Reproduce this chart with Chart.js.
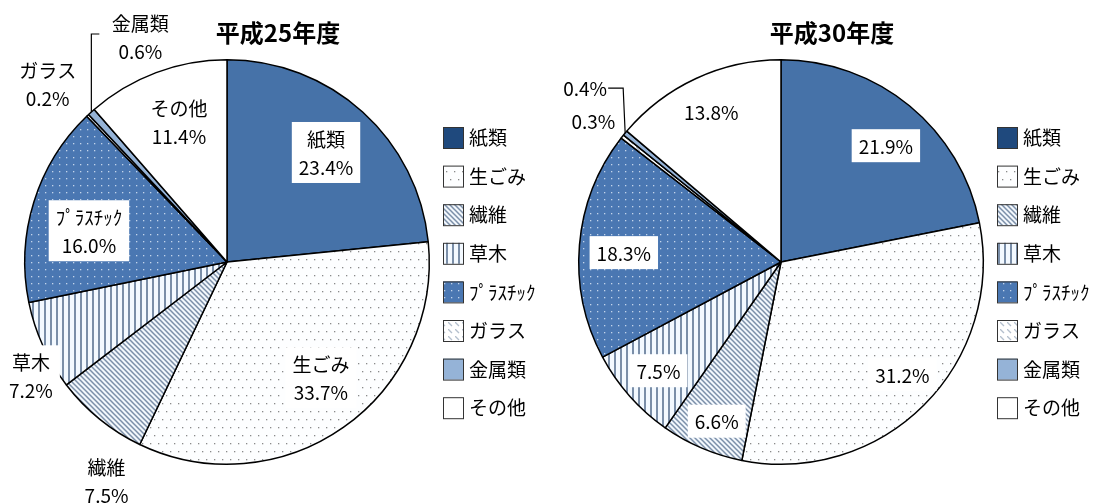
<!DOCTYPE html>
<html lang="ja">
<head>
<meta charset="utf-8">
<script src="https://cdn.jsdelivr.net/npm/chart.js@4.4.1/dist/chart.umd.min.js"></script>
<style>
  html, body { margin: 0; padding: 0; background: #fff; }
  #wrap { position: relative; width: 1104px; height: 504px; overflow: hidden; font-family: "Noto Sans CJK JP", sans-serif; }
  .pane { position: absolute; top: 0; width: 552px; height: 504px; }
  .ttl { position: absolute; top: 17px; width: 552px; line-height: 30px; text-align: center; font-weight: bold; font-size: 24px; color: #000; }
</style>
</head>
<body>
<div id="wrap">
  <div class="pane" style="left:0"><canvas id="pie25"></canvas></div>
  <div class="pane" style="left:552px"><canvas id="pie30"></canvas></div>
  <div class="ttl" id="t25" style="left:2px"></div>
  <div class="ttl" id="t30" style="left:556px"></div>
</div>
<script>
// 品目とその割合(%)
const categories = ['紙類', '生ごみ', '繊維', '草木', 'ﾌﾟﾗｽﾁｯｸ', 'ガラス', '金属類', 'その他'];
const years = ['平成25年度', '平成30年度'];
const valuesH25 = [23.4, 33.7, 7.5, 7.2, 16.0, 0.2, 0.6, 11.4];
const valuesH30 = [21.9, 31.2, 6.6, 7.5, 18.3, 0.3, 0.4, 13.8];

document.getElementById('t25').textContent = years[0];
document.getElementById('t30').textContent = years[1];

// 塗りつぶしパターン
function makePattern(w, h, draw) {
    const c = document.createElement('canvas');
    c.width = w; c.height = h;
    const g = c.getContext('2d');
    draw(g, w, h);
    return g.createPattern(c, 'repeat');
}

const dotsGray = makePattern(8, 16, function (g) {
    g.fillStyle = '#fdfeff'; g.fillRect(0, 0, 8, 16);
    g.fillStyle = '#8a8a8a';
    g.fillRect(2, 3, 1.3, 1.3);
    g.fillRect(6, 11, 1.3, 1.3);
});
const diagLines = makePattern(5, 5, function (g) {
    g.fillStyle = '#f2f7fc'; g.fillRect(0, 0, 5, 5);
    g.strokeStyle = '#7b8fa8'; g.lineWidth = 1.5;
    g.beginPath();
    g.moveTo(-1, -1); g.lineTo(6, 6);
    g.moveTo(-1, 4); g.lineTo(1, 6);
    g.moveTo(4, -1); g.lineTo(6, 1);
    g.stroke();
});
const vertLines = makePattern(6, 6, function (g) {
    g.fillStyle = '#f3f9ff'; g.fillRect(0, 0, 6, 6);
    g.fillStyle = '#7a8ea8'; g.fillRect(2, 0, 2, 6);
});
const dotsBlue = makePattern(7, 7, function (g) {
    g.fillStyle = '#4a77b2'; g.fillRect(0, 0, 7, 7);
    g.fillStyle = '#c3d4ea';
    g.fillRect(3, 3, 1.3, 1.3);
});
const lightDiag = makePattern(7, 7, function (g) {
    g.fillStyle = '#ffffff'; g.fillRect(0, 0, 7, 7);
    g.strokeStyle = '#b4bfcd'; g.lineWidth = 1.3;
    g.beginPath();
    g.moveTo(0, 0); g.lineTo(4, 4);
    g.stroke();
});

const sliceColors = ['#4672a8', dotsGray, diagLines, vertLines, dotsBlue, lightDiag, '#95b3d7', '#ffffff'];
const swatchColors = ['#1f497d', dotsGray, diagLines, vertLines, dotsBlue, lightDiag, '#95b3d7', '#ffffff'];

// ラベル(値の位置は円弧から計算)
const sliceLabels = {
    id: 'sliceLabels',
    afterDatasetsDraw(chart, args, opts) {
        const ctx = chart.ctx;
        const meta = chart.getDatasetMeta(0);
        const vals = chart.data.datasets[0].data;
        ctx.save();
        ctx.font = '19px "Noto Sans CJK JP"';
        ctx.textAlign = 'center';
        ctx.textBaseline = 'middle';
        meta.data.forEach(function (arc, i) {
            const p = opts.place[i];
            const a = arc.getProps(['x', 'y', 'startAngle', 'endAngle', 'outerRadius'], true);
            const mid = (a.startAngle + a.endAngle) / 2;
            const f = p.f || 1;
            const ex = a.x + Math.cos(mid) * a.outerRadius * f;
            const ey = a.y + Math.sin(mid) * a.outerRadius * f;
            const lx = ex + (p.dx || 0);
            const ly = ey + (p.dy || 0);
            const txt = vals[i].toFixed(1) + '%';
            const lines = opts.showName ? [chart.data.labels[i], txt] : [txt];
            const lh = 28;
            const w = Math.max.apply(null, lines.map(t => ctx.measureText(t).width));
            const h = (lines.length - 1) * lh + 19;
            if (p.box !== false) {
                ctx.fillStyle = '#fff';
                ctx.fillRect(lx - w / 2 - 7, ly - h / 2 - 7, w + 14, h + 14);
            }
            ctx.fillStyle = '#000';
            lines.forEach(function (t, k) {
                ctx.fillText(t, lx, ly - (lines.length - 1) * lh / 2 + k * lh + 1);
            });
            if (p.leader) {
                ctx.strokeStyle = '#000';
                ctx.lineWidth = 1.2;
                ctx.beginPath();
                ctx.moveTo(ex, ey);
                p.leader.forEach(pt => ctx.lineTo(ex + pt[0], ey + pt[1]));
                ctx.stroke();
            }
        });
        ctx.restore();
    }
};

// 右側の凡例
const sideLegend = {
    id: 'sideLegend',
    afterDraw(chart, args, opts) {
        const ctx = chart.ctx;
        const x = chart.chartArea.right + opts.gap;
        ctx.save();
        ctx.font = '19px "Noto Sans CJK JP"';
        ctx.textBaseline = 'middle';
        ctx.textAlign = 'left';
        chart.data.labels.forEach(function (lab, i) {
            const cy = opts.top + i * opts.step;
            ctx.fillStyle = swatchColors[i];
            ctx.fillRect(x, cy - 10, 20, 21);
            ctx.strokeStyle = '#333';
            ctx.lineWidth = 1;
            ctx.strokeRect(x + 0.5, cy - 9.5, 20, 21);
            ctx.fillStyle = '#000';
            ctx.fillText(lab, x + 26, cy + 1);
        });
        ctx.restore();
    }
};

function buildPie(id, values, padding, place, showName) {
    return new Chart(document.getElementById(id), {
        type: 'pie',
        data: {
            labels: categories,
            datasets: [{
                data: values,
                backgroundColor: sliceColors,
                borderColor: '#000',
                borderWidth: 1.5
            }]
        },
        options: {
            responsive: true,
            maintainAspectRatio: false,
            animation: false,
            events: [],
            layout: { padding: padding },
            plugins: {
                legend: { display: false },
                tooltip: { enabled: false },
                sliceLabels: { place: place, showName: showName },
                sideLegend: { gap: 13, top: 137, step: 38.6 }
            }
        },
        plugins: [sliceLabels, sideLegend]
    });
}

buildPie('pie25', valuesH25, { top: 59, bottom: 39, left: 24, right: 122 }, [
    { f: 0.73 },
    { f: 0.73, dx: 9, dy: -5 },
    { f: 1, dx: 7, dy: 62 },
    { f: 1, dx: -12, dy: 30 },
    { f: 0.72, dx: 1, dy: 12 },
    { f: 1, dx: -40, dy: -32, box: false },
    { f: 1, dx: 49, dy: -75, box: false, leader: [[0, -78], [8, -78]] },
    { f: 0.72, dx: 3, dy: -4 }
], true);

buildPie('pie30', valuesH30, { top: 59, bottom: 39, left: 26, right: 120 }, [
    { f: 0.77, dx: 6, dy: 4 },
    { f: 0.8, dx: 7, dy: -2 },
    { f: 0.85, dx: 3, dy: 1 },
    { f: 0.81 },
    { f: 0.78, dy: 4 },
    { f: 1, dx: -29, dy: -16, box: false },
    { f: 1, dx: -40, dy: -45, box: false, leader: [[-2, -45], [-17, -45]] },
    { f: 0.82 }
], false);
</script>
</body>
</html>
